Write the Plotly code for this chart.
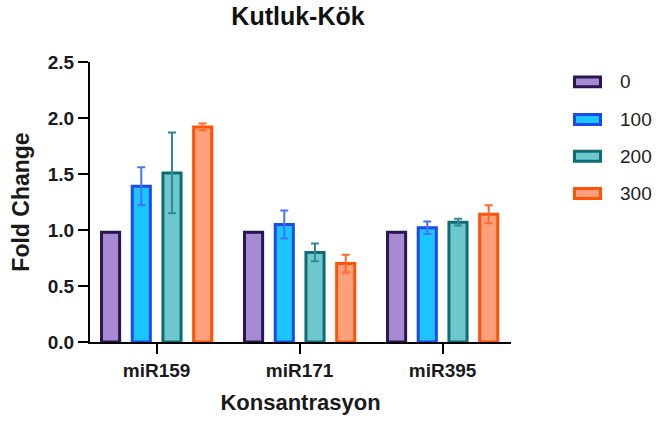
import plotly.graph_objects as go

# Data: fold change (mean) and SD per miRNA and concentration
categories = ["miR159", "miR171", "miR395"]
doses = ["0", "100", "200", "300"]
fold_change = {
    "0":   [0.98, 0.98, 0.98],
    "100": [1.39, 1.05, 1.02],
    "200": [1.51, 0.80, 1.07],
    "300": [1.92, 0.70, 1.14],
}
sd = {
    "0":   [0.0, 0.0, 0.0],
    "100": [0.17, 0.125, 0.055],
    "200": [0.36, 0.08, 0.03],
    "300": [0.03, 0.08, 0.08],
}
y_ticks = [0.0, 0.5, 1.0, 1.5, 2.0, 2.5]
y_tick_labels = ["0.0", "0.5", "1.0", "1.5", "2.0", "2.5"]

# Styling per concentration
fill_colors = {"0": "#A68BD3", "100": "#1BC5FF", "200": "#6EC7CD", "300": "#FFA07C"}
edge_colors = {"0": "#2A1650", "100": "#1B4BF0", "200": "#0E6D74", "300": "#FF5207"}
err_colors = {"0": "#2A1650", "100": "#4574F2", "200": "#2E8A93", "300": "#FF6A2A"}

FONT = "Liberation Sans, Arial, sans-serif"
W, H = 659, 423
L, R, T, B = 90, 148, 62, 79
PW, PH = W - L - R, H - T - B

fig = go.Figure()
for d in doses:
    fig.add_trace(go.Bar(
        name=d,
        x=categories,
        y=fold_change[d],
        marker=dict(color=fill_colors[d], line=dict(color=edge_colors[d], width=3)),
        error_y=dict(type="data", array=sd[d], visible=True,
                     color=err_colors[d], thickness=2, width=4),
        showlegend=False,
    ))

# Legend drawn as outlined swatches with labels to the right of the plot
def px_x(p):
    return (p - L) / PW

def px_y(p):
    return (H - B - p) / PH

legend_rows = [82, 120, 157, 194.5]
for d, yc in zip(doses, legend_rows):
    fig.add_shape(type="rect", xref="paper", yref="paper",
                  x0=px_x(574.5), x1=px_x(600.5), y0=px_y(yc + 5), y1=px_y(yc - 5),
                  fillcolor=fill_colors[d], line=dict(color=edge_colors[d], width=3))
    fig.add_annotation(xref="paper", yref="paper", x=px_x(618), y=px_y(yc),
                       xanchor="left", yanchor="middle", text=d, showarrow=False,
                       font=dict(family=FONT, size=19, color="#222222"))

fig.update_layout(
    width=W, height=H,
    margin=dict(l=L, r=R, t=T, b=B),
    paper_bgcolor="white", plot_bgcolor="white",
    barmode="group", bargap=0.141, bargroupgap=0.41,
    title=dict(text="Kutluk-Kök", x=px_x(298), xref="paper", xanchor="center",
               y=1 - 16 / H, yref="container", yanchor="middle",
               font=dict(family=FONT, size=25, color="#111111", weight="bold")),
    font=dict(family=FONT, color="#1a1a1a"),
)
fig.update_xaxes(
    range=[-0.466, 2.478], showline=True, linecolor="black", linewidth=2,
    ticks="outside", ticklen=10, tickwidth=2, tickcolor="black",
    tickfont=dict(family=FONT, size=19, color="#1a1a1a", weight="bold"),
    title=dict(text="Konsantrasyon", standoff=15,
               font=dict(family=FONT, size=22, color="#1a1a1a", weight="bold")),
    showgrid=False, zeroline=False,
)
fig.update_yaxes(
    range=[0, 2.5], tickvals=y_ticks, ticktext=y_tick_labels,
    showline=True, linecolor="black", linewidth=2,
    ticks="outside", ticklen=10, tickwidth=2, tickcolor="black",
    tickfont=dict(family=FONT, size=19, color="#1a1a1a", weight="bold"),
    title=dict(text="Fold Change", standoff=12,
               font=dict(family=FONT, size=23, color="#1a1a1a", weight="bold")),
    showgrid=False, zeroline=False,
)

fig.write_html("out.html")
